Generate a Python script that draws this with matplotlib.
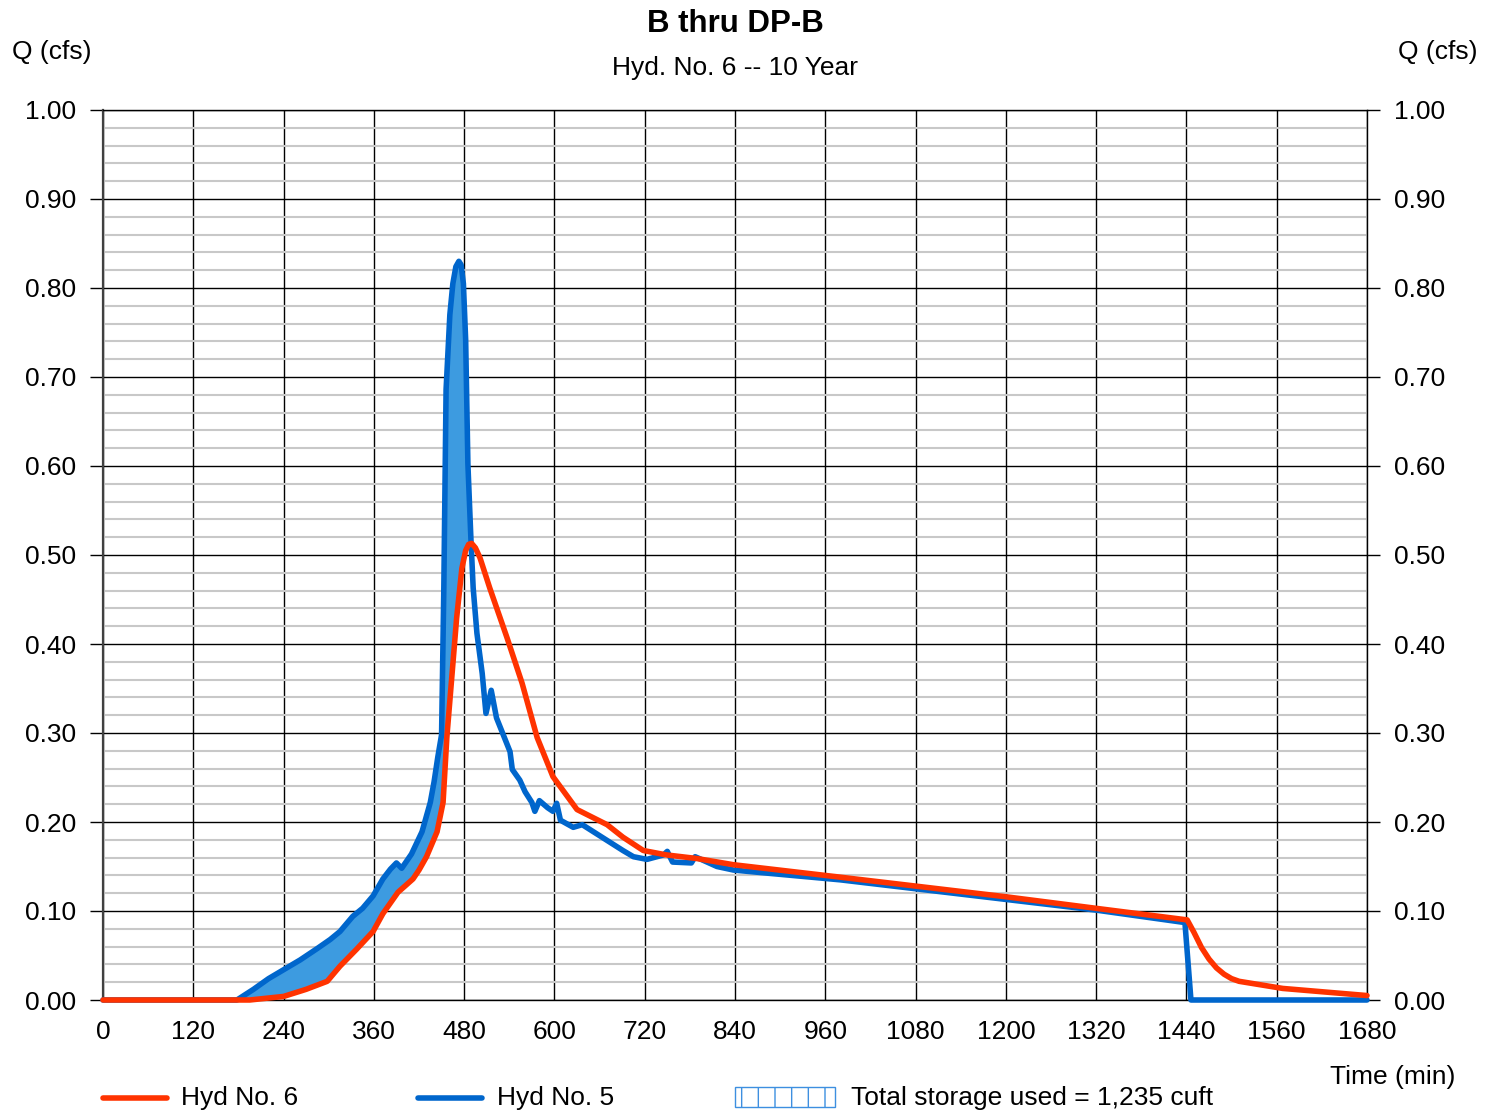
import numpy as np
import matplotlib
matplotlib.use("Agg")
import matplotlib.pyplot as plt
from matplotlib.ticker import MultipleLocator, FormatStrFormatter
from matplotlib.lines import Line2D
from matplotlib.patches import Rectangle

plt.rcParams['font.family'] = ['Liberation Sans', 'DejaVu Sans']
plt.rcParams['hatch.linewidth'] = 1.0

# Hyd No. 5 (inflow)
t_hyd5 = [0, 178, 200, 220, 240, 262, 285, 302, 315, 332, 345, 359, 372, 382, 390, 397,
          410, 424, 435, 440, 445, 450, 453, 456, 461, 465, 469, 473, 476, 479, 482, 485,
          489, 492, 497, 504, 509, 516, 523, 541, 544, 554, 561, 570, 574, 580, 591, 598,
          603, 608, 625, 637, 691, 705, 723, 745, 750, 757, 782, 787, 816, 838, 980, 1080,
          1200, 1320, 1438, 1446, 1680]
q_hyd5 = [0, 0, 0.012, 0.024, 0.034, 0.045, 0.058, 0.068, 0.077, 0.094, 0.103, 0.117,
          0.136, 0.147, 0.154, 0.148, 0.164, 0.189, 0.222, 0.245, 0.273, 0.298, 0.463,
          0.686, 0.77, 0.805, 0.824, 0.83, 0.826, 0.805, 0.742, 0.602, 0.518, 0.463,
          0.412, 0.367, 0.322, 0.348, 0.317, 0.279, 0.259, 0.247, 0.234, 0.222, 0.212,
          0.224, 0.216, 0.212, 0.221, 0.202, 0.194, 0.197, 0.168, 0.161, 0.158, 0.163,
          0.167, 0.155, 0.154, 0.161, 0.15, 0.146, 0.135, 0.125, 0.113, 0.101, 0.087,
          0.0, 0.0]

# Hyd No. 6 (outflow)
t_hyd6 = [0, 195, 240, 270, 298, 315, 337, 359, 372, 392, 412, 420, 430, 444, 452, 457,
          464, 470, 477, 482, 486, 490, 495, 501, 514, 537, 557, 577, 598, 630, 670, 691,
          718, 749, 789, 838, 980, 1080, 1200, 1320, 1441, 1450, 1460, 1470, 1480, 1490,
          1500, 1510, 1568, 1680]
q_hyd6 = [0, 0, 0.004, 0.012, 0.021, 0.038, 0.057, 0.077, 0.097, 0.121, 0.136, 0.146,
          0.161, 0.189, 0.222, 0.295, 0.367, 0.429, 0.485, 0.505, 0.512, 0.513, 0.508,
          0.497, 0.463, 0.407, 0.356, 0.295, 0.251, 0.214, 0.197, 0.183, 0.168, 0.163,
          0.159, 0.152, 0.138, 0.128, 0.116, 0.103, 0.09, 0.076, 0.059, 0.046, 0.036,
          0.029, 0.024, 0.021, 0.013, 0.005]

x_ticks = [0, 120, 240, 360, 480, 600, 720, 840, 960, 1080, 1200, 1320, 1440, 1560, 1680]

RED = '#FF3300'
BLUE = '#0066CC'
FILL = '#3D9BE0'
FS = 19

fig = plt.figure(figsize=(14.94, 11.12), dpi=100)
ax = fig.add_axes([103 / 1494, 112 / 1112, 1264 / 1494, 890 / 1112])

# storage area between inflow and outflow (rising limb)
tf = np.union1d(t_hyd5, t_hyd6)
tf = tf[tf <= 495]
qb = np.interp(tf, t_hyd5, q_hyd5)
qr = np.interp(tf, t_hyd6, q_hyd6)
ax.fill_between(tf, qr, qb, where=qb >= qr, interpolate=True, color=FILL, lw=0, zorder=2)

ax.plot(t_hyd5, q_hyd5, color=BLUE, lw=4.0, solid_joinstyle='round',
        solid_capstyle='round', zorder=3, clip_on=False)
ax.plot(t_hyd6, q_hyd6, color=RED, lw=4.0, solid_joinstyle='round',
        solid_capstyle='round', zorder=4, clip_on=False)

ax.set_xlim(0, 1680)
ax.set_ylim(0, 1.0)
ax.set_xticks(x_ticks)
ax.yaxis.set_major_locator(MultipleLocator(0.1))
ax.yaxis.set_minor_locator(MultipleLocator(0.02))
ax.yaxis.set_major_formatter(FormatStrFormatter('%.2f'))

ax.grid(which='minor', axis='y', color='#C8C8C8', lw=1.5)
ax.grid(which='major', axis='both', color='black', lw=1.0)
ax.set_axisbelow(True)

ax.tick_params(axis='y', which='major', left=True, right=True, labelleft=True,
               labelright=True, direction='out', length=9.4, width=1.0, pad=10,
               labelsize=FS)
ax.tick_params(axis='y', which='minor', length=0)
ax.tick_params(axis='x', length=0, pad=14.5, labelsize=FS)

for s in ['top', 'right', 'bottom']:
    ax.spines[s].set_color('black')
    ax.spines[s].set_linewidth(1.0)
ax.spines['left'].set_color('#404040')
ax.spines['left'].set_linewidth(1.6)

fig.text(735 / 1494, 1 - 24 / 1112, 'B thru DP-B', ha='center', va='center',
         fontsize=22.5, fontweight='bold')
fig.text(735 / 1494, 1 - 68 / 1112, 'Hyd. No. 6 -- 10 Year', ha='center', va='center',
         fontsize=FS)
fig.text(12 / 1494, 1 - 52 / 1112, 'Q (cfs)', ha='left', va='center', fontsize=FS)
fig.text(1477 / 1494, 1 - 52 / 1112, 'Q (cfs)', ha='right', va='center', fontsize=FS)
fig.text(1455 / 1494, 1 - 1077 / 1112, 'Time (min)', ha='right', va='center', fontsize=FS)

# legend row
ly = 1 - 1098 / 1112
fig.add_artist(Line2D([103 / 1494, 167 / 1494], [ly, ly], color=RED, lw=4.0,
                      solid_capstyle='round'))
fig.text(181 / 1494, ly, 'Hyd No. 6', ha='left', va='center', fontsize=FS)
fig.add_artist(Line2D([418 / 1494, 482 / 1494], [ly, ly], color=BLUE, lw=4.0,
                      solid_capstyle='round'))
fig.text(497 / 1494, ly, 'Hyd No. 5', ha='left', va='center', fontsize=FS)
fig.add_artist(Rectangle((735 / 1494, 1 - 1107 / 1112), 100 / 1494, 20 / 1112,
                         transform=fig.transFigure, facecolor='white',
                         edgecolor='#3D8FE0', hatch='|', lw=1.0))
fig.text(851 / 1494, ly, 'Total storage used = 1,235 cuft', ha='left', va='center',
         fontsize=FS)

fig.savefig('out.png', dpi=100)
